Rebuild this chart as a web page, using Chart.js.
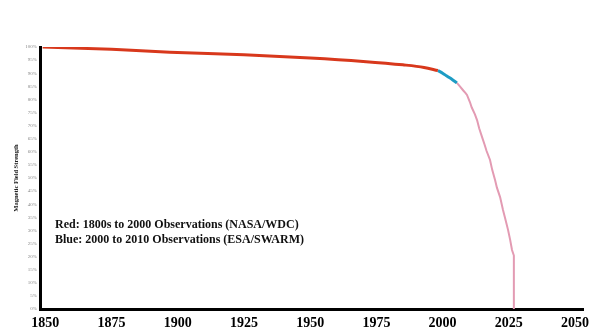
<!DOCTYPE html>
<html>
<head>
<meta charset="utf-8">
<script src="https://cdn.jsdelivr.net/npm/chart.js@4/dist/chart.umd.min.js"></script>
<style>
html,body{margin:0;padding:0;background:#fff;}
#wrap{width:589px;height:329px;position:relative;}
</style>
</head>
<body>
<div id="wrap"><canvas id="c" width="589" height="329"></canvas></div>
<script>
// Data
const redYears  = [1849, 1875, 1897, 1925, 1950, 1970, 1985, 1993, 1998.2];
const redValues = [100, 99.1, 98.0, 97.0, 95.8, 94.5, 93.2, 92.2, 91.0];
const blueYears  = [1998.2, 2000, 2001.6, 2003.6, 2005.4];
const blueValues = [91.0, 90.0, 88.9, 87.6, 86.3];
const pinkYears  = [2005.4, 2006.6, 2007.8, 2008.6, 2009.2, 2010.3, 2011, 2012.2, 2013, 2013.8, 2014.9, 2015.8, 2016.6, 2017.9, 2018.7, 2019.8, 2020.5, 2021.7, 2022.8, 2023.6, 2024.7, 2025.5, 2026.2, 2026.9, 2026.9];
const pinkValues = [86.3, 84.9, 83.4, 82.5, 81.7, 79.0, 76.9, 74.3, 72.1, 69.0, 65.6, 62.9, 60.3, 56.9, 53.2, 49.2, 46.3, 42.7, 37.8, 34.6, 30.2, 26.4, 22.5, 20.4, 0];
const xTickYears = [1850, 1875, 1900, 1925, 1950, 1975, 2000, 2025, 2050];
const legendLines = ["Red: 1800s to 2000 Observations (NASA/WDC)", "Blue: 2000 to 2010 Observations (ESA/SWARM)"];
const yTitle = "Magnetic Field Strength";

const toXY = (xs, ys) => xs.map((x, i) => ({x: x, y: ys[i]}));

const notePlugin = {
  id: 'note',
  afterDraw(chart) {
    const ctx = chart.ctx;
    const a = chart.chartArea;
    ctx.save();
    ctx.fillStyle = '#111';
    ctx.font = 'bold 12px "Liberation Serif", "Times New Roman", serif';
    ctx.textBaseline = 'middle';
    ctx.textAlign = 'left';
    legendLines.forEach((t, i) => ctx.fillText(t, a.left + 15, 225 + i * 15));
    ctx.restore();
  }
};

new Chart(document.getElementById('c'), {
  type: 'line',
  data: {
    datasets: [
      {data: toXY(redYears, redValues), borderColor: '#d8381c', borderWidth: 3, pointRadius: 0, tension: 0.3, cubicInterpolationMode: 'monotone'},
      {data: toXY(blueYears, blueValues), borderColor: '#1d9cc4', borderWidth: 3, pointRadius: 0, tension: 0.3, cubicInterpolationMode: 'monotone'},
      {data: toXY(pinkYears, pinkValues), borderColor: '#e39bb3', borderWidth: 2, pointRadius: 0, tension: 0}
    ]
  },
  options: {
    responsive: false,
    animation: false,
    layout: {padding: {top: 47, right: 6, left: 12, bottom: 0}},
    plugins: {legend: {display: false}, tooltip: {enabled: false}},
    scales: {
      x: {
        type: 'linear', min: 1848, max: 2053,
        afterBuildTicks: s => { s.ticks = xTickYears.map(v => ({value: v})); },
        afterFit: s => { s.height = 20; s.paddingLeft = 0; s.paddingRight = 0; },
        grid: {display: false, drawTicks: false},
        border: {display: true, color: '#000', width: 3},
        ticks: {
          callback: v => String(v),
          color: '#000', padding: 6, maxRotation: 0, autoSkip: false,
          font: {family: '"Liberation Serif", "Times New Roman", serif', size: 14, weight: 'bold'}
        }
      },
      y: {
        min: 0, max: 100,
        afterFit: s => { s.width = 28; },
        grid: {display: false, drawTicks: false},
        border: {display: true, color: '#000', width: 3},
        ticks: {
          stepSize: 5, callback: v => v + '%',
          color: '#8a8a8a', padding: 3,
          font: {family: '"Liberation Serif", serif', size: 5}
        },
        title: {
          display: true, text: yTitle, color: '#222', padding: {top: 0, bottom: 0},
          font: {family: '"Liberation Serif", serif', size: 6.5, weight: 'bold'}
        }
      }
    }
  },
  plugins: [notePlugin]
});
</script>
</body>
</html>
